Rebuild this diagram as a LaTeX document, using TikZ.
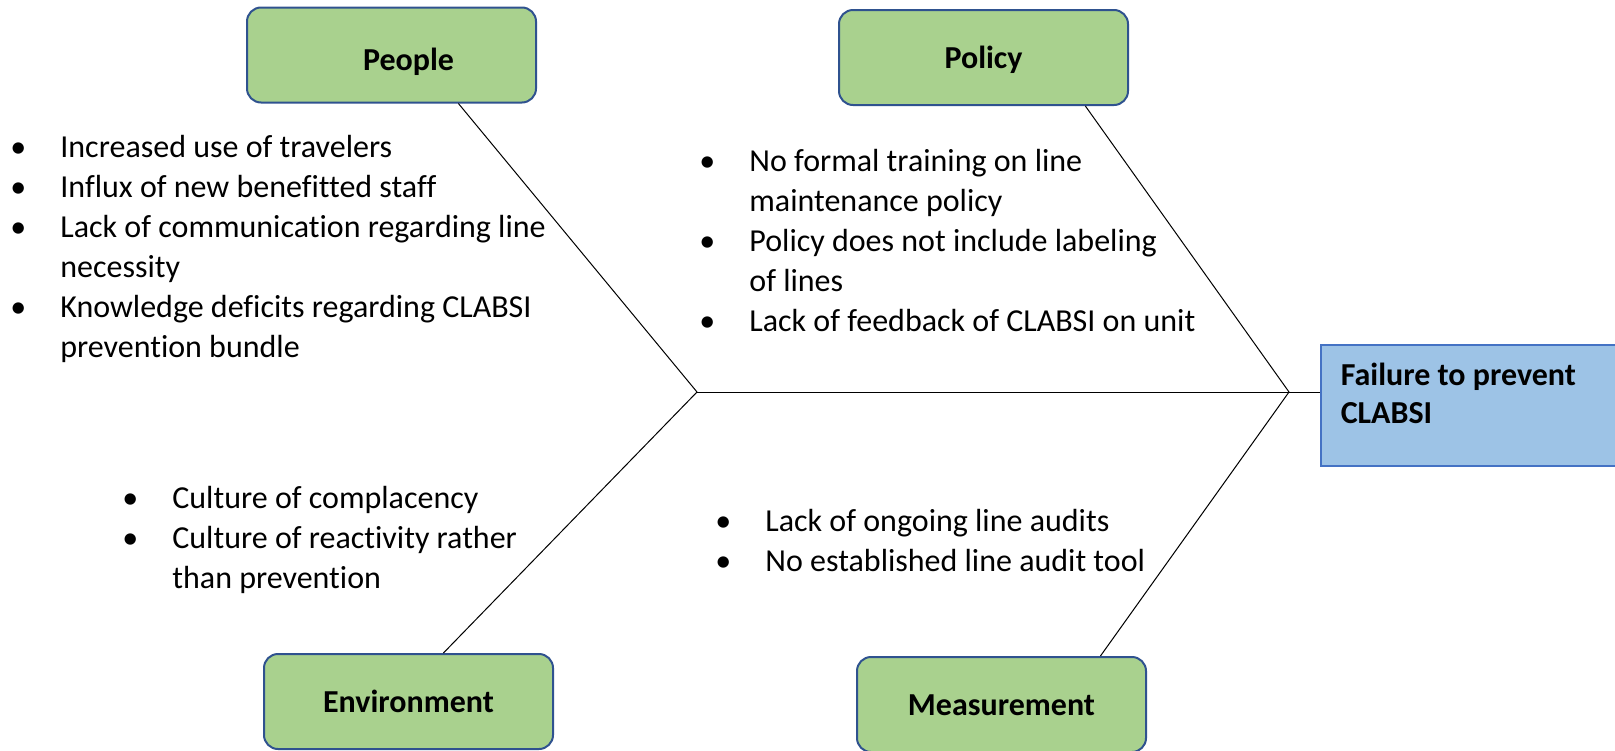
\documentclass[tikz,border=0pt]{standalone}
\usepackage{fontspec}
\setmainfont{Carlito}[Ligatures=NoCommon]
\usetikzlibrary{calc}

\definecolor{causefill}{HTML}{A9D18E}
\definecolor{causeline}{HTML}{2F528F}
\definecolor{effectfill}{HTML}{9DC3E6}
\definecolor{effectline}{HTML}{4472C4}

% bullet and hanging indent for the cause lists
\newcommand{\bul}{\makebox[0pt]{\textbullet}\hspace*{21pt}}
\newcommand{\cont}{\hspace*{21pt}}

\tikzset{
  cause/.style={draw=causeline, fill=causefill, line width=1pt, rounded corners=7pt,
    minimum width=144.5pt, minimum height=47.5pt, text height=11pt, text depth=0pt,
    font=\fontsize{16}{19}\selectfont\bfseries},
  effect/.style={draw=effectline, fill=effectfill, line width=0.75pt,
    inner xsep=10pt, inner ysep=0pt, text height=20.5pt, text depth=40pt,
    font=\fontsize{16}{19}\selectfont\bfseries},
  items/.style={anchor=base west, inner sep=0pt, font=\fontsize{16}{20}\selectfont},
  bone/.style={line width=0.5pt}
}

\begin{document}
\begin{tikzpicture}[x=0.5pt, y=-0.5pt]
    \useasboundingbox (0,0) rectangle (1615,750);

    % joints on the spine
    \coordinate (tailjoin) at (697,392);
    \coordinate (headjoin) at (1289,392);

    % effect
    \node[effect, anchor=north west] (effect) at (1320,344)
        {\begin{tabular}[t]{@{}p{132.5pt}@{}}Failure to prevent\\CLABSI\end{tabular}};

    % causes
    \node[cause, text height=15pt] (people) at (391.5,55) {\hspace*{17pt}People};
    \node[cause] (policy) at (983.5,57.5) {Policy};
    \node[cause] (environment) at (408.5,701.5) {Environment};
    \node[cause] (measurement) at (1001.5,704.5) {Measurement};

    % spine and bones
    \draw[bone] (tailjoin) -- (tailjoin -| effect.west);
    \draw[bone] ($(people.south west)!0.73!(people.south east)$) -- (tailjoin);
    \draw[bone] ($(environment.north west)!0.62!(environment.north east)$) -- (tailjoin);
    \draw[bone] ($(policy.south west)!0.85!(policy.south east)$) -- (headjoin);
    \draw[bone] ($(measurement.north west)!0.84!(measurement.north east)$) -- (headjoin);

    % lists
    \node[items] (peoplelist) at (18,157) {\begin{tabular}[t]{@{}l@{}}
        \bul Increased use of travelers\\
        \bul Influx of new benefitted staff\\
        \bul Lack of communication regarding line\\
        \cont necessity\\
        \bul Knowledge deficits regarding CLABSI\\
        \cont prevention bundle
    \end{tabular}};
    \node[items] (policylist) at (707,171) {\begin{tabular}[t]{@{}l@{}}
        \bul No formal training on line\\
        \cont maintenance policy\\
        \bul Policy does not include labeling\\
        \cont of lines\\
        \bul Lack of feedback of CLABSI on unit
    \end{tabular}};
    \node[items] (environmentlist) at (130,508) {\begin{tabular}[t]{@{}l@{}}
        \bul Culture of complacency\\
        \bul Culture of reactivity rather\\
        \cont than prevention
    \end{tabular}};
    \node[items] (measurementlist) at (723,531) {\begin{tabular}[t]{@{}l@{}}
        \bul Lack of ongoing line audits\\
        \bul No established line audit tool
    \end{tabular}};
\end{tikzpicture}
\end{document}
